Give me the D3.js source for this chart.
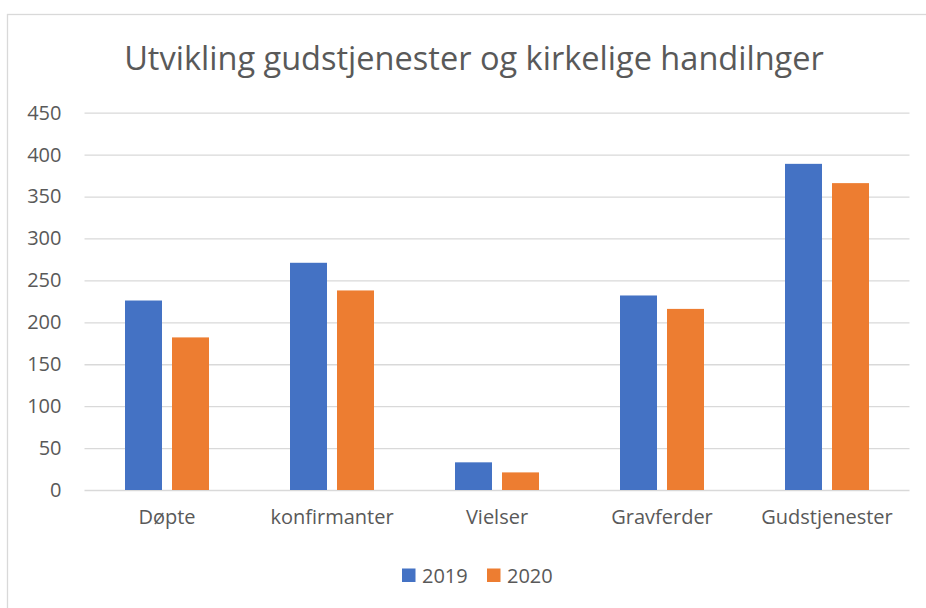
<!DOCTYPE html>
<html>
<head>
<meta charset="utf-8">
<script src="https://cdn.jsdelivr.net/npm/d3@7"></script>
<style>
  body { margin: 0; background: #fff; }
  svg { display: block; font-family: "Open Sans", sans-serif; }
</style>
</head>
<body>
<svg width="926" height="608"></svg>
<script>
// data
var categories = ["Døpte", "konfirmanter", "Vielser", "Gravferder", "Gudstjenester"]
var years = ["2019", "2020"]
var values2019 = [226, 271, 33, 232, 389]
var values2020 = [182, 238, 21, 216, 366]
var yTicks = [0, 50, 100, 150, 200, 250, 300, 350, 400, 450]
var titleText = "Utvikling gudstjenester og kirkelige handilnger"

var colors = ["#4472C4", "#ED7D31"]
var textColor = "#595959"
var gridColor = "#d9d9d9"

var svg = d3.select("svg")
// plot box (note: "top" is taken by window.top, so plotTop)
var plotLeft = 84.5, plotRight = 909.5, plotTop = 112.7, plotBottom = 490

// frame round the chart
svg.append("rect")
    .attr("x", 7.5).attr("y", 14.5)
    .attr("width", 940).attr("height", 620)
    .attr("fill", "none")
    .attr("stroke", gridColor)
    .attr("stroke-width", 1.3)

var rows = categories.map(function(c, i) {
    return {cat: c, vals: [values2019[i], values2020[i]]}
})

var x = d3.scaleBand().domain(categories).range([plotLeft, plotRight])
    .paddingInner(0.491).paddingOuter(0.2455)
var xs = d3.scaleBand().domain(years).range([0, x.bandwidth()])
    .paddingInner(0.213)
var y = d3.scaleLinear().domain([0, 450]).range([plotBottom, plotTop])

// gridlines + y labels
var yAxis = svg.append("g")
    .attr("transform", "translate(" + plotLeft + ",0)")
    .call(d3.axisLeft(y).tickValues(yTicks).tickSize(-(plotRight - plotLeft)).tickPadding(23))
yAxis.select(".domain").remove()
yAxis.selectAll("line").attr("stroke", gridColor).attr("stroke-width", 1.3)
yAxis.selectAll("text")
    .attr("fill", textColor)
    .style("font-size", "20px")
    .style("font-family", "'Open Sans', sans-serif")

// bars
var groups = svg.append("g").selectAll("g")
    .data(rows)
    .enter().append("g")
    .attr("transform", function(d) { return "translate(" + x(d.cat) + ",0)" })

groups.selectAll("rect")
    .data(function(d) { return d.vals.map(function(v, i) { return {year: years[i], v: v, i: i} }) })
    .enter().append("rect")
    .attr("x", function(d) { return xs(d.year) })
    .attr("y", function(d) { return y(d.v) })
    .attr("width", xs.bandwidth())
    .attr("height", function(d) { return y(0) - y(d.v) })
    .attr("fill", function(d) { return colors[d.i] })

// category labels
var xAxis = svg.append("g")
    .attr("transform", "translate(0," + plotBottom + ")")
    .call(d3.axisBottom(x).tickSize(0).tickPadding(20))
xAxis.select(".domain").remove()
xAxis.selectAll("text")
    .attr("fill", textColor)
    .style("font-size", "20px")
    .style("font-family", "'Open Sans', sans-serif")

// title, shrunk to the width it has in the picture
var title = svg.append("text")
    .attr("x", 474).attr("y", 70)
    .attr("text-anchor", "middle")
    .attr("fill", textColor)
    .style("font-size", "32px")
    .text(titleText)
var tw = title.node().getComputedTextLength()
title.style("font-size", (32 * 700 / tw) + "px")

// legend
var legend = svg.append("g").attr("transform", "translate(402,568.5)")
var items = legend.selectAll("g")
    .data(years)
    .enter().append("g")
    .attr("transform", function(d, i) { return "translate(" + (i * 85) + ",0)" })
items.append("rect")
    .attr("width", 13.5).attr("height", 13.5)
    .attr("fill", function(d, i) { return colors[i] })
items.append("text")
    .attr("x", 20).attr("y", 7)
    .attr("dy", "0.35em")
    .attr("fill", textColor)
    .style("font-size", "20px")
    .text(function(d) { return d })
</script>
</body>
</html>
